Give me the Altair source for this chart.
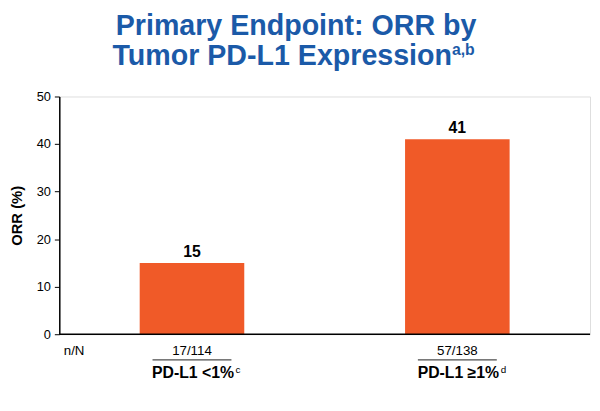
import altair as alt
import pandas as pd

categories = ["PD-L1 <1%", "PD-L1 \u22651%"]
orr_values = [15, 41]
n_over_n = ["17/114", "57/138"]
superscripts = ["c", "d"]
y_ticks = [0, 10, 20, 30, 40, 50]

df = pd.DataFrame({"group": categories, "orr": orr_values, "nn": n_over_n, "sup": superscripts})

W, H = 538, 241
BLUE = "#1B5AA8"
ORANGE = "#F05A28"
FONT = "Liberation Sans"

x = alt.X("group:N", sort=categories, scale=alt.Scale(domain=categories, paddingInner=0.6, paddingOuter=0.3), axis=None)
y = alt.Y("orr:Q", scale=alt.Scale(domain=[0, 50], nice=False),
          axis=alt.Axis(values=y_ticks, title="ORR (%)", titleFont=FONT, titleFontSize=15, titleFontWeight="bold",
                        titleColor="black", titlePadding=12, labelFont=FONT, labelFontSize=13, labelColor="black",
                        labelPadding=4, tickSize=5, tickColor="black", domainColor="black", domainWidth=1.5,
                        grid=False))

base = alt.Chart(df)

bars = base.mark_bar(color=ORANGE, size=106).encode(x=x, y=y)
labels = base.mark_text(dy=-11, font=FONT, fontSize=16, fontWeight="bold", color="black").encode(
    x=x, y=alt.Y("orr:Q"), text="orr:Q")

# bottom axis line spanning the full width
baseline = alt.Chart(pd.DataFrame({"v": [0]})).mark_rule(color="black", strokeWidth=1.5).encode(
    y=alt.Y("v:Q"), x=alt.value(0), x2=alt.value(W))

nn_text = base.mark_text(font=FONT, fontSize=13.5, color="black").encode(
    x=x, y=alt.value(H + 17), text="nn:N")
underline = base.mark_tick(color="black", thickness=1.2, size=80, orient="horizontal").encode(
    x=x, y=alt.value(H + 26))
cat_text = base.mark_text(font=FONT, fontSize=16, fontWeight="bold", color="black", baseline="alphabetic", dx=1).encode(
    x=x, y=alt.value(H + 44), text="group:N")
sup_text = base.mark_text(font=FONT, fontSize=10, color="black", dx=44, align="left", baseline="alphabetic").encode(
    x=x, y=alt.value(H + 39), text="sup:N")

nN = alt.Chart(pd.DataFrame({"t": ["n/N"]})).mark_text(font=FONT, fontSize=13.5, color="black").encode(
    x=alt.value(15), y=alt.value(H + 17), text="t:N")

title1 = alt.Chart(pd.DataFrame({"t": ["Primary Endpoint: ORR by"]})).mark_text(
    font=FONT, fontSize=29, fontWeight="bold", color=BLUE, baseline="alphabetic").encode(
    x=alt.value(240), y=alt.value(-62), text="t:N")
title2 = alt.Chart(pd.DataFrame({"t": ["Tumor PD-L1 Expression"]})).mark_text(
    font=FONT, fontSize=29, fontWeight="bold", color=BLUE, baseline="alphabetic").encode(
    x=alt.value(226), y=alt.value(-32), text="t:N")
title_sup = alt.Chart(pd.DataFrame({"t": ["a,b"]})).mark_text(
    font=FONT, fontSize=16, fontWeight="bold", color=BLUE, align="left", baseline="alphabetic").encode(
    x=alt.value(398), y=alt.value(-42), text="t:N")

chart = alt.layer(bars, labels, baseline, nn_text, underline, cat_text, sup_text, nN, title1, title2, title_sup).properties(
    width=W, height=H,
    autosize=alt.AutoSizeParams(type="none"),
    padding={"left": 52, "top": 87, "right": 2, "bottom": 67},
).configure_view(stroke=None).configure(background="white")

chart.save("out.html", embed_options={"renderer": "svg", "actions": False})
